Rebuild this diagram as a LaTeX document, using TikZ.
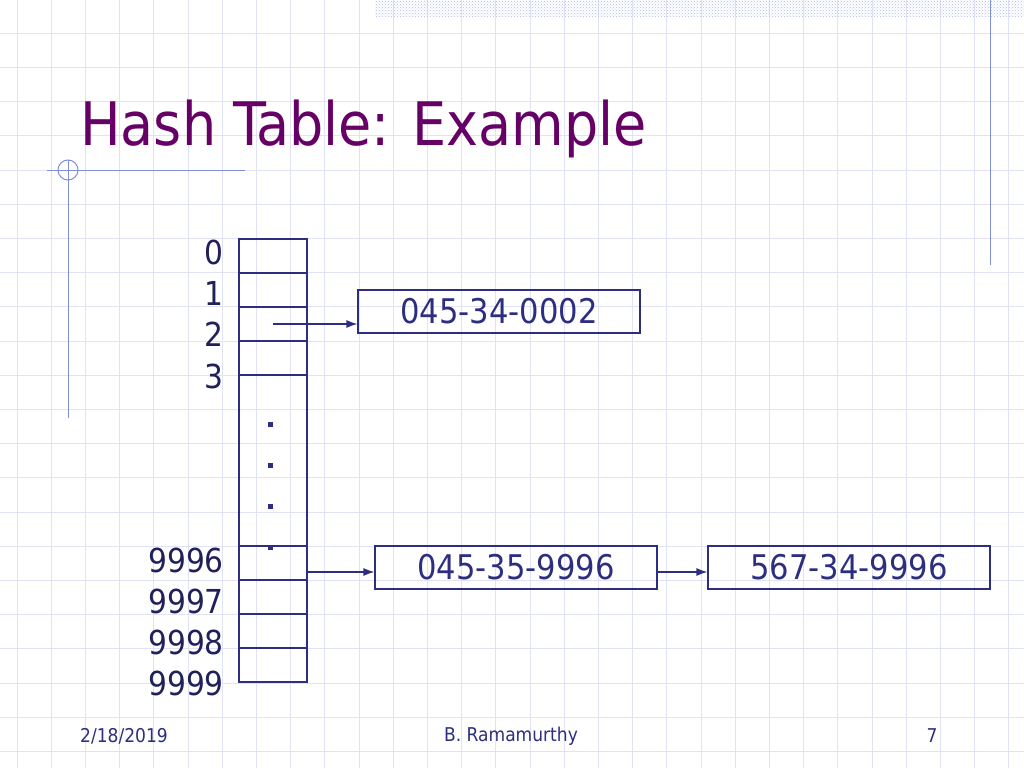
\documentclass[tikz,border=0pt]{standalone}
\usepackage{fontspec}
\setmainfont{DejaVu Sans Condensed}
\usetikzlibrary{arrows.meta,patterns}
\definecolor{navy}{HTML}{2E2E80}
\definecolor{gridc}{HTML}{E0E3F6}
\definecolor{deco}{HTML}{7F8FD8}
\definecolor{ttl}{HTML}{660066}
\begin{document}
\begin{tikzpicture}[x=1pt,y=-1pt,
  cell/.style={draw=navy,line width=1.2pt},
  valbox/.style={draw=navy,line width=1.2pt,minimum width=282pt,minimum height=43pt,inner sep=0pt,text=navy,font=\fontsize{34}{36}\selectfont},
  idx/.style={anchor=east,text=navy!70!black,font=\fontsize{33}{35}\selectfont,inner sep=0pt},
  link/.style={draw=navy,line width=1.2pt,-{Latex[length=11pt,width=8pt]}},
  foot/.style={text=navy,font=\fontsize{19}{21}\selectfont,inner sep=0pt}]
\useasboundingbox (0,0) rectangle (1024,768);
\fill[white] (0,0) rectangle (1024,768);
\foreach \i in {0,...,30} \draw[gridc,line width=0.8pt] ({17+34.2*\i},0) -- ({17+34.2*\i},768);
\foreach \i in {0,...,22} \draw[gridc,line width=0.8pt] (0,{-1+34.2*\i}) -- (1024,{-1+34.2*\i});
\fill[pattern=crosshatch dots,pattern color=deco!60] (375,0) rectangle (1024,17);
\draw[deco,line width=1pt] (990,0) -- (990,265);
\draw[deco,line width=1pt] (47,170) -- (245,170);
\draw[deco,line width=1pt] (68,160) -- (68,418);
\draw[deco,line width=1pt] (68,170) circle (10);
\node[anchor=base west,text=ttl,font=\fontsize{60}{62}\selectfont,inner sep=0pt] (title) at (80,145) {Hash Table: Example};
% table
\foreach \y in {239,273,307,341} \draw[cell] (239,\y) rectangle (307,\y+34);
\draw[cell] (239,375) rectangle (307,546);
\foreach \y in {546,580,614,648} \draw[cell] (239,\y) rectangle (307,\y+34);
\foreach \y in {424,465,506,547} \fill[navy] (268,\y-2.5) rectangle (273,\y+2.5);
\node[idx] (i0) at (224,252) {0};
\node[idx] (i1) at (224,293) {1};
\node[idx] (i2) at (224,334) {2};
\node[idx] (i3) at (224,376) {3};
\node[idx] (i6) at (224,560) {9996};
\node[idx] (i7) at (224,601) {9997};
\node[idx] (i8) at (224,642) {9998};
\node[idx] (i9) at (224,683) {9999};
\node[valbox] (b1) at (499,311.5) {045-34-0002};
\node[valbox] (b2) at (516,567.5) {045-35-9996};
\node[valbox] (b3) at (849,567.5) {567-34-9996};
\coordinate (s1) at (273,324);
\coordinate (s2) at (307,572);
\draw[link] (s1) -- (s1 -| b1.west);
\draw[link] (s2) -- (s2 -| b2.west);
\draw[link] (b2.east |- s2) -- (b3.west |- s2);
\node[foot,anchor=west] (f1) at (80,736) {2/18/2019};
\node[foot] (f2) at (511,736) {B. Ramamurthy};
\node[foot] (f3) at (932,736) {7};
\end{tikzpicture}
\end{document}
